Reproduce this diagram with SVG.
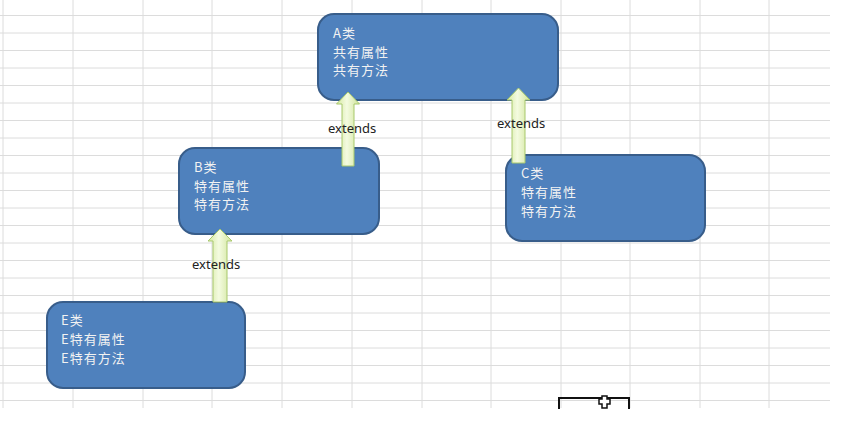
<svg xmlns="http://www.w3.org/2000/svg" width="852" height="425" viewBox="0 0 852 425">
<defs>
<linearGradient id="ag" x1="0" y1="0" x2="1" y2="0">
<stop offset="0" stop-color="#d4e8a0"/>
<stop offset="0.45" stop-color="#f4fbe0"/>
<stop offset="1" stop-color="#cfe49a"/>
</linearGradient>
</defs>
<style>
.grid line{stroke:#dcdcdc;stroke-width:1}
.box{fill:#4f81bd;stroke:#385d8a;stroke-width:2}
.t{font-family:"Noto Sans CJK SC","Noto Sans",sans-serif;font-size:13px;letter-spacing:1px;fill:#f2f2f2}
.arrow{fill:url(#ag);stroke:#a8c86c;stroke-width:1}
.lbl{font-family:"Noto Sans","DejaVu Sans",sans-serif;font-size:13px;fill:#222}
</style>
<rect x="0" y="0" width="852" height="425" fill="#ffffff"/>
<g class="grid">
<line x1="3" y1="0" x2="3" y2="408"/>
<line x1="73" y1="0" x2="73" y2="408"/>
<line x1="143" y1="0" x2="143" y2="408"/>
<line x1="212" y1="0" x2="212" y2="408"/>
<line x1="282" y1="0" x2="282" y2="408"/>
<line x1="352" y1="0" x2="352" y2="408"/>
<line x1="422" y1="0" x2="422" y2="408"/>
<line x1="491" y1="0" x2="491" y2="408"/>
<line x1="561" y1="0" x2="561" y2="408"/>
<line x1="630" y1="0" x2="630" y2="408"/>
<line x1="700" y1="0" x2="700" y2="408"/>
<line x1="769" y1="0" x2="769" y2="408"/>
<line x1="0" y1="15.5" x2="830" y2="15.5"/>
<line x1="0" y1="33" x2="830" y2="33"/>
<line x1="0" y1="50.5" x2="830" y2="50.5"/>
<line x1="0" y1="68" x2="830" y2="68"/>
<line x1="0" y1="85.5" x2="830" y2="85.5"/>
<line x1="0" y1="103" x2="830" y2="103"/>
<line x1="0" y1="120.5" x2="830" y2="120.5"/>
<line x1="0" y1="138" x2="830" y2="138"/>
<line x1="0" y1="155.5" x2="830" y2="155.5"/>
<line x1="0" y1="173" x2="830" y2="173"/>
<line x1="0" y1="190.5" x2="830" y2="190.5"/>
<line x1="0" y1="208" x2="830" y2="208"/>
<line x1="0" y1="225.5" x2="830" y2="225.5"/>
<line x1="0" y1="243" x2="830" y2="243"/>
<line x1="0" y1="260.5" x2="830" y2="260.5"/>
<line x1="0" y1="278" x2="830" y2="278"/>
<line x1="0" y1="295.5" x2="830" y2="295.5"/>
<line x1="0" y1="313" x2="830" y2="313"/>
<line x1="0" y1="330.5" x2="830" y2="330.5"/>
<line x1="0" y1="348" x2="830" y2="348"/>
<line x1="0" y1="365.5" x2="830" y2="365.5"/>
<line x1="0" y1="383" x2="830" y2="383"/>
<line x1="0" y1="400.5" x2="830" y2="400.5"/>
</g>
<g id="nodeA">
<rect class="box" x="318" y="14" width="240" height="86" rx="16"/>
<text class="t" x="333" y="38">A类</text>
<text class="t" x="333" y="56.5">共有属性</text>
<text class="t" x="333" y="75">共有方法</text>
</g>
<g id="nodeB">
<rect class="box" x="179" y="148" width="200" height="86" rx="16"/>
<text class="t" x="194" y="172">B类</text>
<text class="t" x="194" y="190.5">特有属性</text>
<text class="t" x="194" y="209">特有方法</text>
</g>
<g id="nodeC">
<rect class="box" x="506" y="155" width="199" height="86" rx="16"/>
<text class="t" x="521" y="178">C类</text>
<text class="t" x="521" y="197">特有属性</text>
<text class="t" x="521" y="216">特有方法</text>
</g>
<g id="nodeE">
<rect class="box" x="47" y="302" width="198" height="86" rx="16"/>
<text class="t" x="61" y="325">E类</text>
<text class="t" x="61" y="344">E特有属性</text>
<text class="t" x="61" y="363">E特有方法</text>
</g>
<g id="connectors">
<path class="arrow" d="M348,92 L359.5,104 L354,104 L354,166 L342,166 L342,104 L336.5,104 Z"/>
<path class="arrow" d="M518.5,88 L530,100 L525,100 L525,163 L512,163 L512,100 L507,100 Z"/>
<path class="arrow" d="M220,229 L232,241 L227,241 L227,302 L213,302 L213,241 L208,241 Z"/>
<text class="lbl" x="328" y="133">extends</text>
<text class="lbl" x="497" y="128">extends</text>
<text class="lbl" x="192" y="269">extends</text>
</g>
<path d="M559,409 L559,398 L629,398 L629,409" fill="none" stroke="#111" stroke-width="2"/>
<path d="M602,396 h5 v3 h3 v5 h-3 v4 h-5 v-4 h-3 v-5 h3 Z" fill="#fff" stroke="#111" stroke-width="1.5"/>
</svg>
